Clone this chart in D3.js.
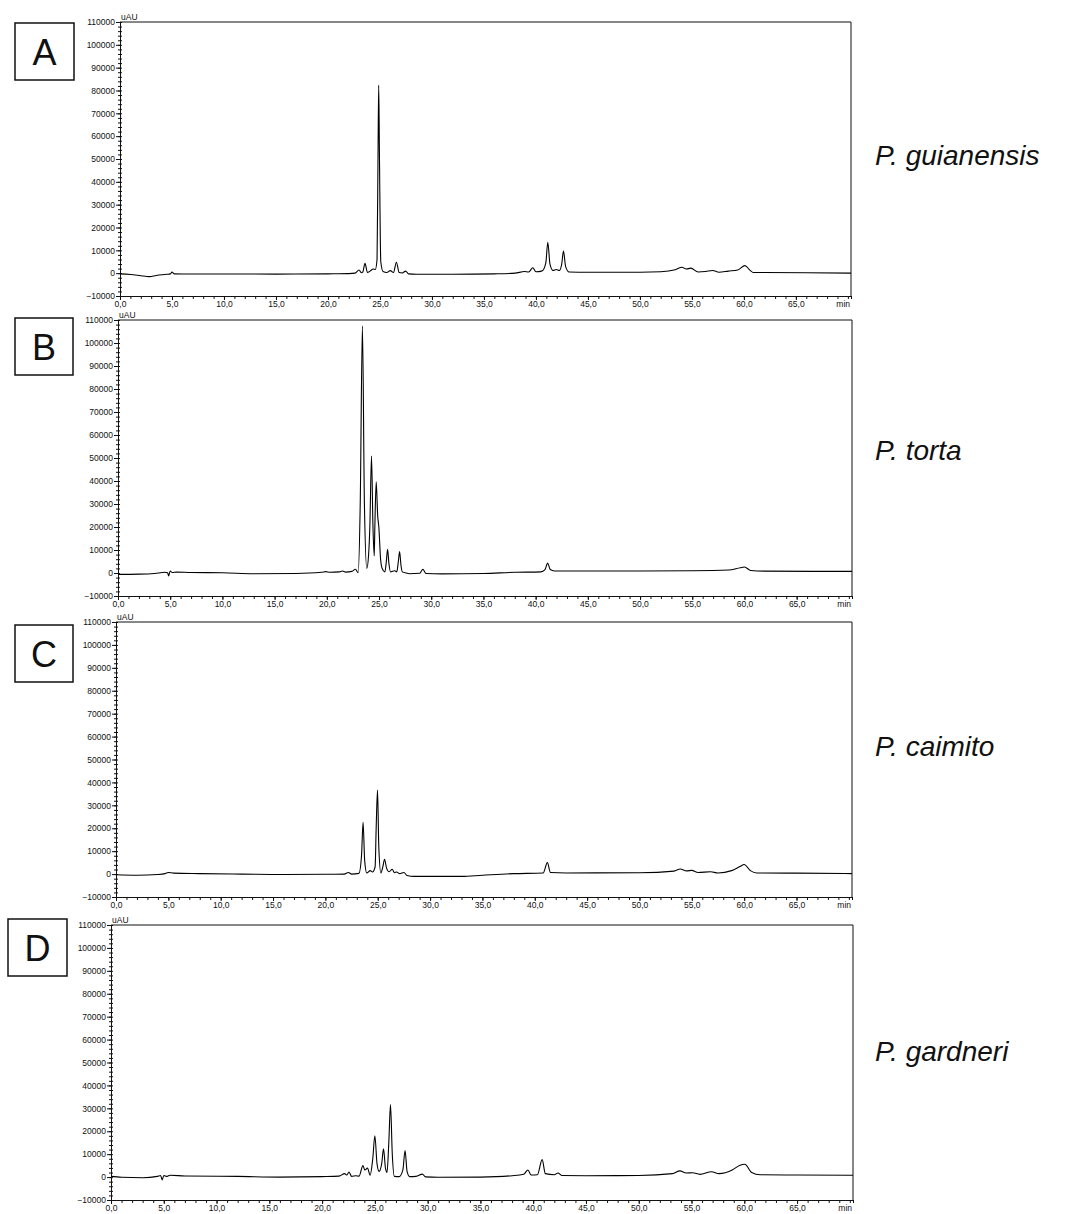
<!DOCTYPE html>
<html>
<head>
<meta charset="utf-8">
<script src="https://cdn.jsdelivr.net/npm/d3@7"></script>
<style>
  html, body { margin: 0; padding: 0; background: #fff; }
  svg { display: block; }
  text { font-family: "Liberation Sans", Arial, sans-serif; fill: #111; }
</style>
</head>
<body>
<svg id="chart" width="1068" height="1214"></svg>
<script>
// HPLC chromatograms (absorbance in uAU vs retention time in min)

const panelLetters = ["A", "B", "C", "D"];
const speciesNames = ["P. guianensis", "P. torta", "P. caimito", "P. gardneri"];

const yTickValues = [-10000, 0, 10000, 20000, 30000, 40000, 50000, 60000, 70000, 80000, 90000, 100000, 110000];
const xTickValues = [0, 5, 10, 15, 20, 25, 30, 35, 40, 45, 50, 55, 60, 65];
const xTickLabels = ["0,0", "5,0", "10,0", "15,0", "20,0", "25,0", "30,0", "35,0", "40,0", "45,0", "50,0", "55,0", "60,0", "65,0"];
const xUnitLabel = "min";
const yUnitLabel = "uAU";
const timeDomain = [0, 70.3];
const signalDomain = [-10000, 110000];

// [retention time (min), signal (uAU)]
const traceA = [
  [0,-300],[1,-600],[2,-1100],[2.8,-1500],[3.5,-1000],[4.5,-500],[4.85,-300],[5.0,500],[5.2,-300],[6,-350],
  [10,-350],[15,-400],[20,-300],[22.0,-200],[22.6,0],[22.99,1400],[23.2,200],[23.35,500],[23.56,4300],
  [23.8,300],[24.05,900],[24.35,1800],[24.55,1600],[24.72,6000],[24.82,55000],[24.88,82400],[24.95,52000],
  [25.08,5000],[25.3,700],[25.65,300],[26.0,1100],[26.3,300],[26.58,4800],[26.85,300],[27.15,100],
  [27.47,900],[27.75,-300],[28.5,-500],[32,-500],[36,-300],[38,0],[38.9,700],[39.3,500],[39.7,2400],
  [40.0,600],[40.6,1000],[40.95,4500],[41.14,13500],[41.35,4000],[41.65,1200],[41.95,1600],[42.25,1200],
  [42.48,4000],[42.65,9700],[42.85,3000],[43.2,500],[45,400],[50,400],[52,600],[53.4,1500],[54.05,2600],
  [54.45,1800],[54.9,2200],[55.6,500],[56.3,700],[56.99,1200],[57.6,400],[58.5,900],[59.4,1400],
  [60.1,3300],[60.6,1200],[60.9,300],[62,300],[66,200],[70.3,0]
];

const traceB = [
  [0,-600],[2,-500],[3.5,-200],[4.5,300],[4.75,100],[4.85,-1300],[5.0,900],[5.2,200],[5.6,400],[7,200],
  [10,100],[13,-300],[17,-200],[19.5,300],[19.9,600],[20.3,300],[21.2,500],[21.5,900],[21.8,400],
  [22.4,700],[22.74,1600],[23.0,100],[23.2,30000],[23.41,107400],[23.6,30000],[23.83,2000],[24.0,7800],
  [24.12,20000],[24.28,50900],[24.42,20000],[24.54,7400],[24.6,20000],[24.73,39700],[24.87,25000],
  [24.98,20100],[25.15,6000],[25.3,2000],[25.56,500],[25.7,5000],[25.82,10300],[25.95,4000],[26.1,500],
  [26.5,1000],[26.7,500],[26.85,5000],[26.97,9300],[27.1,3500],[27.23,500],[27.6,0],[27.9,-300],
  [28.9,-100],[29.2,1600],[29.5,-200],[31,-400],[35,-200],[38,300],[40.5,500],[40.9,1500],[41.15,4300],
  [41.4,1500],[41.8,900],[43,900],[50,900],[55,1000],[58.5,1300],[59.6,2300],[60.0,2600],[60.6,1100],
  [62,800],[70.3,700]
];

const traceC = [
  [0,-300],[2,-500],[4,-200],[4.7,200],[5.0,700],[5.5,400],[8,200],[12,0],[16,-200],[20,-100],
  [21.8,0],[22.2,700],[22.5,0],[23.2,300],[23.45,8000],[23.6,22600],[23.75,6000],[23.95,500],[24.28,1500],
  [24.5,900],[24.75,3200],[24.85,20000],[24.98,36700],[25.1,12000],[25.3,500],[25.5,3500],[25.65,6500],
  [25.85,2500],[26.1,1000],[26.38,2100],[26.6,600],[26.8,900],[27.1,200],[27.5,700],[27.8,-600],
  [28.5,-1000],[33,-1000],[35,-500],[38,200],[40.8,500],[41.2,5000],[41.5,700],[43,500],[50,600],
  [53.3,1300],[53.9,2200],[54.5,1400],[55.0,1600],[55.6,700],[56.8,1000],[57.5,500],[58.8,1500],
  [59.6,3300],[60.0,4200],[60.6,1500],[61.2,500],[65,400],[70.3,200]
];

const traceD = [
  [0,300],[1,-100],[3,-300],[4.4,300],[4.7,700],[4.85,-1200],[5.0,700],[5.3,300],[5.6,800],[7,500],
  [12,300],[16,0],[20,200],[21.6,400],[22.14,1500],[22.35,900],[22.55,2200],[22.8,300],[23.2,600],
  [23.5,400],[23.87,5000],[24.05,3100],[24.3,3900],[24.55,800],[24.8,8000],[25.0,18000],[25.2,6000],
  [25.4,2500],[25.65,6000],[25.82,12300],[26.0,4000],[26.15,2000],[26.32,15000],[26.48,31600],[26.65,10000],
  [26.85,300],[27.3,200],[27.65,3000],[27.86,11600],[28.05,2500],[28.3,200],[28.9,300],[29.5,1300],
  [29.8,100],[31,-100],[35,0],[38,600],[39.1,1200],[39.5,3100],[39.8,900],[40.4,1000],[40.85,7600],
  [41.15,1500],[42,1000],[42.35,1800],[42.7,700],[45,600],[50,700],[53.2,1500],[53.9,2700],[54.5,1800],
  [55.1,1900],[55.8,1200],[56.9,2300],[57.6,1500],[58.9,3200],[59.6,5200],[60.05,5600],[60.7,2000],
  [61.5,1000],[65,900],[70.3,800]
];

const traces = [traceA, traceB, traceC, traceD];

// Layout of the four stacked panels (plot frame, letter box, species label)
const layout = [
  { left: 120, right: 851, top: 22,  bottom: 296,  box: [15, 23, 59, 57],  labelY: 165 },
  { left: 118, right: 852, top: 320, bottom: 596,  box: [15, 318, 58, 57], labelY: 460 },
  { left: 116, right: 852, top: 622, bottom: 897,  box: [15, 625, 58, 57], labelY: 756 },
  { left: 111, right: 853, top: 925, bottom: 1200, box: [8, 919, 59, 57],  labelY: 1061 }
];

const svg = d3.select("#chart");
svg.append("rect").attr("width", 1068).attr("height", 1214).attr("fill", "#fff");

layout.forEach((L, i) => {
  const x = d3.scaleLinear().domain(timeDomain).range([L.left, L.right]);
  const y = d3.scaleLinear().domain(signalDomain).range([L.bottom, L.top]);
  const g = svg.append("g");

  // frame: top and right edges
  g.append("path")
    .attr("d", `M${L.left},${L.top}H${L.right}V${L.bottom}`)
    .attr("fill", "none").attr("stroke", "#111").attr("stroke-width", 1);

  // y axis, minor ticks every 2000
  const yMinor = d3.range(signalDomain[0], signalDomain[1] + 1, 2000);
  const yMin = g.append("g").attr("transform", `translate(${L.left},0)`)
    .call(d3.axisLeft(y).tickValues(yMinor).tickSize(2).tickSizeOuter(0).tickFormat(""));
  yMin.select(".domain").remove();
  yMin.selectAll(".tick line").attr("x1", 2).attr("stroke", "#111");

  const yAx = g.append("g").attr("transform", `translate(${L.left},0)`)
    .call(d3.axisLeft(y).tickValues(yTickValues).tickSize(4).tickSizeOuter(0).tickPadding(1)
      .tickFormat(d3.format("d")));
  yAx.select(".domain").attr("stroke", "#111");
  yAx.selectAll(".tick line").attr("stroke", "#111");
  yAx.selectAll(".tick text").attr("font-size", 8.5).attr("font-family", "Liberation Sans, Arial, sans-serif").attr("fill", "#111");

  g.append("text").attr("x", L.left + 1).attr("y", L.top - 2)
    .attr("font-size", 8.5).text(yUnitLabel);

  // x axis, minor ticks every minute
  const xMinor = d3.range(0, 70.01, 1).concat([timeDomain[1]]);
  g.append("g").attr("transform", `translate(0,${L.bottom})`)
    .call(d3.axisBottom(x).tickValues(xMinor).tickSize(3).tickSizeOuter(0).tickFormat(""))
    .call(s => { s.select(".domain").remove(); s.selectAll(".tick line").attr("stroke", "#111"); });

  const xAx = g.append("g").attr("transform", `translate(0,${L.bottom})`)
    .call(d3.axisBottom(x).tickValues(xTickValues).tickSize(4).tickSizeOuter(0).tickPadding(1)
      .tickFormat((d, k) => xTickLabels[k]));
  xAx.select(".domain").attr("stroke", "#111");
  xAx.selectAll(".tick line").attr("stroke", "#111");
  xAx.selectAll(".tick text").attr("font-size", 8.5).attr("font-family", "Liberation Sans, Arial, sans-serif").attr("fill", "#111");

  g.append("text").attr("x", x(timeDomain[1]) - 1).attr("y", L.bottom + 11)
    .attr("text-anchor", "end").attr("font-size", 8.5).text(xUnitLabel);

  // chromatogram trace
  const line = d3.line().x(d => x(d[0])).y(d => y(d[1])).curve(d3.curveMonotoneX);
  g.append("path").datum(traces[i]).attr("d", line)
    .attr("fill", "none").attr("stroke", "#000").attr("stroke-width", 1.1)
    .attr("stroke-linejoin", "round");

  // panel letter box
  const [bx, by, bw, bh] = L.box;
  g.append("rect").attr("x", bx).attr("y", by).attr("width", bw).attr("height", bh)
    .attr("fill", "none").attr("stroke", "#111").attr("stroke-width", 1.5);
  g.append("text").attr("x", bx + bw / 2).attr("y", by + bh / 2 + 13)
    .attr("text-anchor", "middle").attr("font-size", 36).text(panelLetters[i]);

  // species name
  g.append("text").attr("x", 875).attr("y", L.labelY)
    .attr("font-size", 28).attr("font-style", "italic").text(speciesNames[i]);
});
</script>
</body>
</html>
